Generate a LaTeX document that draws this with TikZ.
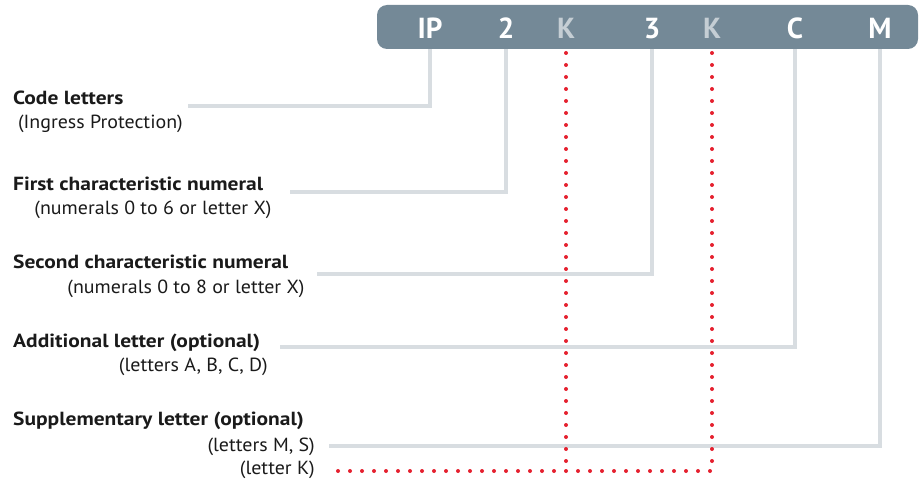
\documentclass[tikz,border=0pt]{standalone}
\usepackage{fontspec}
\setmainfont{PT Sans}[UprightFeatures={FakeStretch=1.05}, BoldFeatures={FakeStretch=1.13}]
\newfontfamily\barfont{PT Sans Bold}
\definecolor{barcol}{HTML}{748997}
\definecolor{linecol}{HTML}{D8DDE1}
\definecolor{kgray}{HTML}{C5CED4}
\definecolor{kred}{HTML}{E5202E}
\definecolor{txt}{HTML}{1A1A1A}
\tikzset{
  lab/.style={anchor=base west, inner sep=0pt, font=\fontsize{19}{19}\selectfont\bfseries, text=txt},
  sub/.style={anchor=base east, inner sep=0pt, font=\fontsize{19}{19}\selectfont, text=txt},
  glyph/.style={anchor=base, inner sep=0pt, font=\fontsize{29}{29}\barfont, text=white},
  conn/.style={draw=linecol, line width=4.5pt},
  kdot/.style={draw=kred, line width=4pt, line cap=round, dash pattern=on 0pt off 12pt},
}
\begin{document}
\begin{tikzpicture}[x=1pt,y=-1pt]
\useasboundingbox (0,0) rectangle (919,481);
% bar
\node[fill=barcol, rounded corners=10pt, minimum width=541pt, minimum height=44pt, inner sep=0pt] (bar) at (647.5,27) {};
\node[glyph] (ip) at (430,39) {IP};
\node[glyph] (n2) at (506,39) {2};
\node[glyph, text=kgray] (k1) at (566,39) {K};
\node[glyph] (n3) at (652,39) {3};
\node[glyph, text=kgray] (k2) at (712,39) {K};
\node[glyph] (c) at (795,39) {C};
\node[glyph] (m) at (880,39) {M};
% labels
\node[lab] (l1) at (13,105) {Code letters};
\node[sub] (s1) at (183,129) {(Ingress Protection)};
\node[lab] (l2) at (13,191) {First characteristic numeral};
\node[sub, anchor=base] (s2) at (153,215) {(numerals 0 to 6 or letter X)};
\node[lab] (l3) at (13,269) {Second characteristic numeral};
\node[sub, anchor=base] (s3) at (186,294) {(numerals 0 to 8 or letter X)};
\node[lab] (l4) at (13,347) {Additional letter (optional)};
\node[sub] (s4) at (268,371) {(letters A, B, C, D)};
\node[lab] (l5) at (13,425) {Supplementary letter (optional)};
\node[sub] (s5) at (315,451) {(letters M, S)};
\node[sub] (s6) at (315,474) {(letter K)};
% connector ends
\coordinate (e1) at (188,106);
\coordinate (e2) at (290,192);
\coordinate (e3) at (317,274);
\coordinate (e4) at (280,347);
\coordinate (e5) at (329,446);
\coordinate (kstart) at (0,53);
\coordinate (kend) at (330,471);
% connectors
\draw[conn] (ip |- bar.south) |- (e1);
\draw[conn] (n2 |- bar.south) |- (e2);
\draw[conn] (n3 |- bar.south) |- (e3);
\draw[conn] (c |- bar.south) |- (e4);
\draw[conn] (m |- bar.south) |- (e5);
% K dotted
\draw[kdot] (k1 |- kstart) -- (k1 |- kend);
\draw[kdot] (k2 |- kstart) |- (kend);
\end{tikzpicture}
\end{document}
